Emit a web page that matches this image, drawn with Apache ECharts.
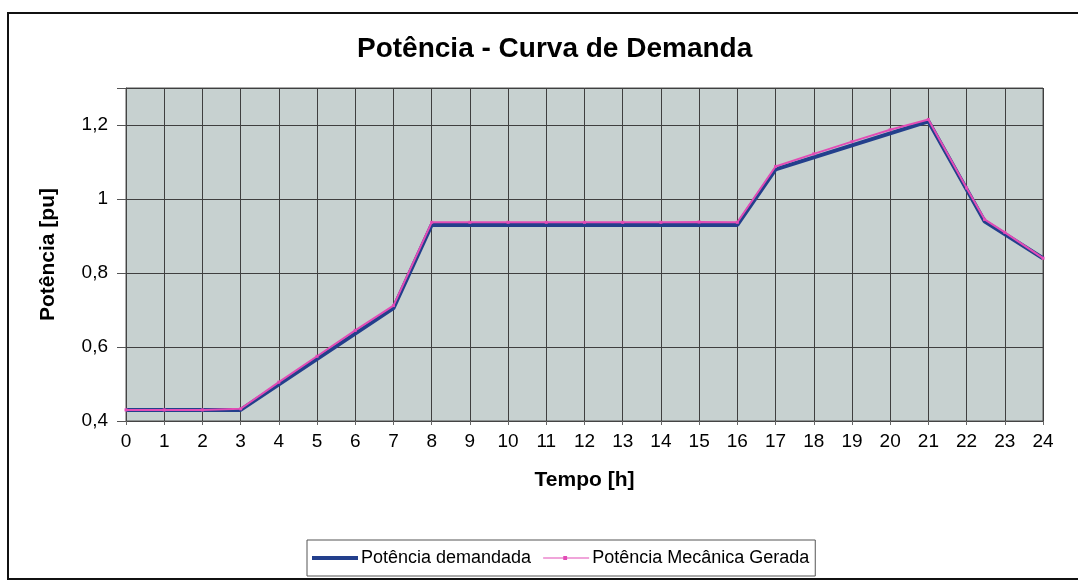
<!DOCTYPE html>
<html>
<head>
<meta charset="utf-8">
<title>Potência - Curva de Demanda</title>
<script src="https://cdn.jsdelivr.net/npm/echarts@6/dist/echarts.min.js"></script>
<style>
  html, body { margin: 0; padding: 0; background: #fff; }
  #chart { width: 1078px; height: 586px; }
</style>
</head>
<body>
<div id="chart"></div>
<script>
// Demand curve (hour, pu)
const demandHours  = [0, 3, 7, 8, 16, 17, 21, 22.47, 24];
const demandValues = [0.43, 0.43, 0.705, 0.93, 0.93, 1.08, 1.21, 0.94, 0.84];

// Generated mechanical power (hour, pu)
const genHours  = [0, 1, 2, 3, 4, 5, 6, 7, 8, 9, 10, 11, 12, 13, 14, 15, 16, 17, 18, 19, 20, 21, 22, 22.47, 23, 24];
const genValues = [0.43, 0.43, 0.43, 0.433, 0.505, 0.575, 0.645, 0.712, 0.937, 0.937, 0.937, 0.937, 0.937, 0.937, 0.937, 0.938,
                   0.937, 1.088, 1.122, 1.155, 1.187, 1.215, 1.03, 0.945, 0.91, 0.84];

const seriesNames = ['Potência demandada', 'Potência Mecânica Gerada'];
const yTicks = [0.4, 0.6, 0.8, 1, 1.2];

const zip = (xs, ys) => xs.map((x, i) => [x, ys[i]]);
const font = 'Liberation Sans, Arial, sans-serif';

// legend keys: a thick bar for demand, a thin line with a small marker for generation
const demandIcon = 'path://M0,0 L48,0 L48,4 L0,4 Z';
const genIcon = 'path://M0,1.5 L21,1.5 L21,0 L25,0 L25,1.5 L48,1.5 L48,2.5 L25,2.5 L25,4 L21,4 L21,2.5 L0,2.5 Z';

const chart = echarts.init(document.getElementById('chart'));
chart.setOption({
  animation: false,
  backgroundColor: '#ffffff',
  title: {
    text: 'Potência - Curva de Demanda',
    left: 352,
    top: 30,
    textStyle: { fontFamily: font, fontSize: 28, fontWeight: 'bold', color: '#000' }
  },
  graphic: [{
    type: 'rect',
    z: -10,
    shape: { x: 8, y: 13, width: 1080, height: 566 },
    style: { fill: 'none', stroke: '#111', lineWidth: 2 }
  }],
  legend: {
    data: [
      { name: seriesNames[0], icon: demandIcon },
      { name: seriesNames[1], icon: genIcon }
    ],
    left: 307,
    top: 540,
    padding: [9, 6, 9, 5],
    borderColor: '#555',
    borderWidth: 1,
    itemGap: 12,
    itemWidth: 46,
    itemHeight: 4,
    textStyle: { fontFamily: font, fontSize: 18, color: '#000', padding: [0, 0, 0, -2] }
  },
  grid: {
    left: 126, right: 35, top: 88, bottom: 165,
    show: true,
    backgroundColor: '#c7d1d0',
    borderColor: '#555',
    borderWidth: 1
  },
  xAxis: {
    type: 'value',
    min: 0, max: 24, interval: 1,
    name: 'Tempo [h]',
    nameLocation: 'middle',
    nameGap: 49,
    nameTextStyle: { fontFamily: font, fontSize: 21, fontWeight: 'bold', color: '#000' },
    axisLine: { show: true, lineStyle: { color: '#444', width: 1 } },
    axisTick: { show: true, length: 4, lineStyle: { color: '#666' } },
    axisLabel: { fontFamily: font, fontSize: 19, color: '#000', margin: 11 },
    splitLine: { show: true, lineStyle: { color: '#3f3f3f', width: 1 } }
  },
  yAxis: {
    type: 'value',
    min: 0.4, max: 1.3, interval: 0.2,
    name: 'Potência [pu]',
    nameLocation: 'middle',
    nameGap: 67,
    nameRotate: 90,
    nameTextStyle: { fontFamily: font, fontSize: 21, fontWeight: 'bold', color: '#000' },
    axisLine: { show: true, lineStyle: { color: '#444', width: 1 } },
    axisTick: { show: true, length: 9, lineStyle: { color: '#555' } },
    axisLabel: {
      fontFamily: font, fontSize: 19, color: '#000', margin: 18,
      formatter: v => {
        const t = yTicks.find(k => Math.abs(k - v) < 1e-6);
        return t === undefined ? '' : String(t).replace('.', ',');
      }
    },
    splitLine: { show: true, lineStyle: { color: '#3f3f3f', width: 1 } }
  },
  series: [
    {
      name: seriesNames[0],
      type: 'line',
      data: zip(demandHours, demandValues),
      showSymbol: false,
      symbol: 'none',
      lineStyle: { color: '#233f8c', width: 4 },
      itemStyle: { color: '#233f8c' },
      z: 2
    },
    {
      name: seriesNames[1],
      type: 'line',
      data: zip(genHours, genValues),
      symbol: 'rect',
      symbolSize: 3,
      lineStyle: { color: '#e24cb6', width: 2 },
      itemStyle: { color: '#e24cb6' },
      z: 3
    }
  ]
});
</script>
</body>
</html>
